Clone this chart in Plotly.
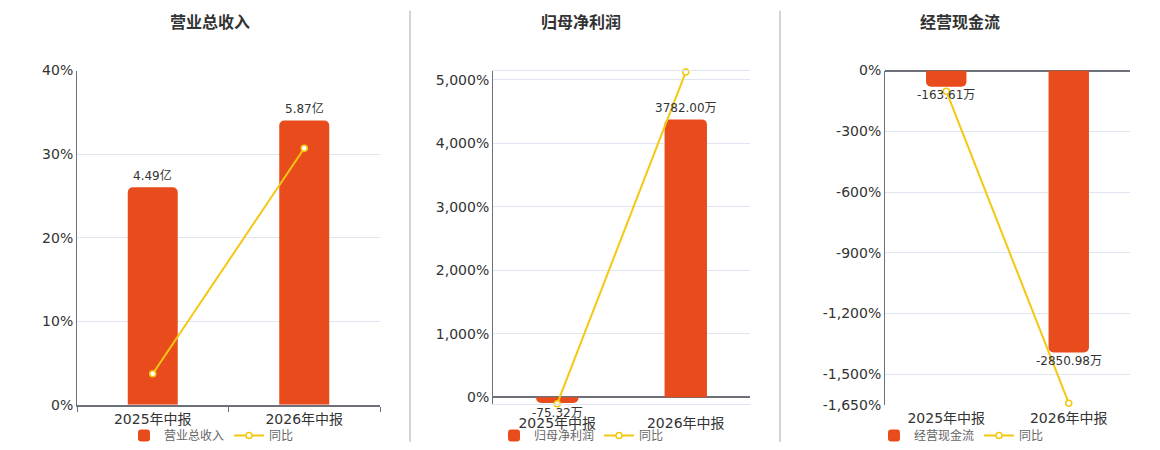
import plotly.graph_objects as go

# ---- data ----
periods = ['2025年中报', '2026年中报']

revenue = [4.49, 5.87]                 # 亿
revenue_text = ['4.49亿', '5.87亿']
revenue_yoy = [3.7, 30.7]              # %

profit = [-75.32, 3782.00]             # 万
profit_text = ['-75.32万', '3782.00万']
profit_yoy = [-99.0, 5121.3]           # %

cashflow = [-163.61, -2850.98]         # 万
cashflow_text = ['-163.61万', '-2850.98万']
cashflow_yoy = [-102.0, -1642.5]       # %

rev_ticks = [0, 10, 20, 30, 40]
rev_ticktext = ['0%', '10%', '20%', '30%', '40%']
profit_ticks = [0, 1000, 2000, 3000, 4000, 5000]
profit_ticktext = ['0%', '1,000%', '2,000%', '3,000%', '4,000%', '5,000%']
cash_ticks = [0, -300, -600, -900, -1200, -1500, -1650]
cash_ticktext = ['0%', '-300%', '-600%', '-900%', '-1,200%', '-1,500%', '-1,650%']

BAR = '#E84C1D'
YEL = '#F4C811'
AXIS = '#6E7079'
GRID = '#E0E6F1'
FONT = 'DejaVu Sans, Noto Sans CJK SC, sans-serif'

W, H = 1160, 450


def py(ys):
    # screen row -> paper fraction (the capture shows the page slightly squeezed/offset vertically)
    yf = (ys - 7.3) / 0.967
    return max(0.0, 1 - yf / H)


panels = [
    dict(title='营业总收入', name='营业总收入', bars=revenue, text=revenue_text, yoy=revenue_yoy,
         ticks=rev_ticks, ticktext=rev_ticktext, rng=[0, 40], bar_rng=[0, 6.9],
         xdom=[77 / W, 380 / W], ydom=[py(405), py(70)], xa='x', yb='y', yl='y2',
         legend='legend', title_x=210 / W, leg_x=124 / W, standoff=1, neg_shift=1),
    dict(title='归母净利润', name='归母净利润', bars=profit, text=profit_text, yoy=profit_yoy,
         ticks=profit_ticks, ticktext=profit_ticktext, rng=[-99, 5146], bar_rng=[-85.5, 4446.6],
         xdom=[493 / W, 750 / W], ydom=[py(404), py(70)], xa='x2', yb='y3', yl='y4',
         legend='legend2', title_x=581 / W, leg_x=494 / W, standoff=7, neg_shift=-1),
    dict(title='经营现金流', name='经营现金流', bars=cashflow, text=cashflow_text, yoy=cashflow_yoy,
         ticks=cash_ticks, ticktext=cash_ticktext, rng=[-1650, 0], bar_rng=[-3378, 0],
         xdom=[885 / W, 1130 / W], ydom=[py(405), py(70)], xa='x3', yb='y5', yl='y6',
         legend='legend3', title_x=960 / W, leg_x=874 / W, standoff=3, neg_shift=1),
]

fig = go.Figure()
layout = {}
annotations = []

for i, p in enumerate(panels):
    # bars go on the base (hidden) axis, the yoy line on the overlay so it sits on top
    fig.add_trace(go.Bar(
        name=p['name'], x=periods, y=p['bars'],
        cliponaxis=False, width=0.33,
        marker=dict(color=BAR, cornerradius=5, line=dict(width=0)),
        xaxis=p['xa'], yaxis=p['yb'], legend=p['legend'], hoverinfo='skip'))
    fig.add_trace(go.Scatter(
        name='同比', x=periods, y=p['yoy'], mode='lines+markers',
        line=dict(color=YEL, width=2),
        marker=dict(symbol='circle', size=6, color='white', line=dict(color=YEL, width=1.5)),
        cliponaxis=False,
        xaxis=p['xa'], yaxis=p['yl'], legend=p['legend']))

    # value labels at the bar ends
    for cat, v, t in zip(periods, p['bars'], p['text']):
        annotations.append(dict(x=cat, y=v, xref=p['xa'], yref=p['yb'], text=t,
                                showarrow=False, font=dict(size=12, color='#333'),
                                yanchor='bottom' if v >= 0 else 'top',
                                yshift=2 if v >= 0 else p['neg_shift']))

    xkey = 'xaxis' if p['xa'] == 'x' else 'xaxis' + p['xa'][1:]
    ybkey = 'yaxis' if p['yb'] == 'y' else 'yaxis' + p['yb'][1:]
    ylkey = 'yaxis' + p['yl'][1:]

    xa = dict(domain=p['xdom'], anchor=p['yb'], type='category',
              tickfont=dict(size=14, color='#333'), showgrid=False, zeroline=False,
              ticklabelstandoff=p['standoff'])
    if i == 0:
        xa.update(showline=True, linecolor=AXIS, linewidth=2, ticks='outside',
                  tickson='boundaries', ticklen=5, tickcolor=AXIS)
    elif i == 1:
        xa.update(showline=True, linecolor=GRID, linewidth=1, mirror=True, ticks='')
    else:
        xa.update(showline=False, ticks='')
    layout[xkey] = xa

    layout[ybkey] = dict(domain=p['ydom'], anchor=p['xa'], range=p['bar_rng'], visible=False,
                         showgrid=False, zeroline=False)
    layout[ylkey] = dict(overlaying=p['yb'], anchor=p['xa'], side='left', range=p['rng'],
                         tickvals=p['ticks'], ticktext=p['ticktext'],
                         tickfont=dict(size=14, color='#333'),
                         showgrid=True, gridcolor=GRID, gridwidth=1,
                         showline=True, linecolor=AXIS, linewidth=1,
                         zeroline=(i != 0), zerolinecolor=AXIS, zerolinewidth=2)

    layout[p['legend']] = dict(orientation='h', x=p['leg_x'], y=py(436),
                               xanchor='left', yanchor='middle',
                               font=dict(size=12, color='#666'),
                               bgcolor='rgba(0,0,0,0)', itemwidth=30, tracegroupgap=0)

    annotations.append(dict(text='<b>%s</b>' % p['title'], x=p['title_x'], y=py(22),
                            xref='paper', yref='paper', xanchor='center', yanchor='middle',
                            showarrow=False, font=dict(size=16, color='#333')))

shapes = [dict(type='line', xref='paper', yref='paper', x0=sx / W, x1=sx / W,
               y0=py(443), y1=py(10), line=dict(color='#AAAAAA', width=1))
          for sx in (410, 780)]

fig.update_layout(
    width=W, height=H,
    margin=dict(l=0, r=0, t=0, b=0),
    paper_bgcolor='white', plot_bgcolor='white',
    font=dict(family=FONT, color='#333'),
    showlegend=True,
    annotations=annotations,
    shapes=shapes,
    **layout)

fig.write_html("out.html", config={'displayModeBar': False},
               post_script="document.body.style.margin='0';")
